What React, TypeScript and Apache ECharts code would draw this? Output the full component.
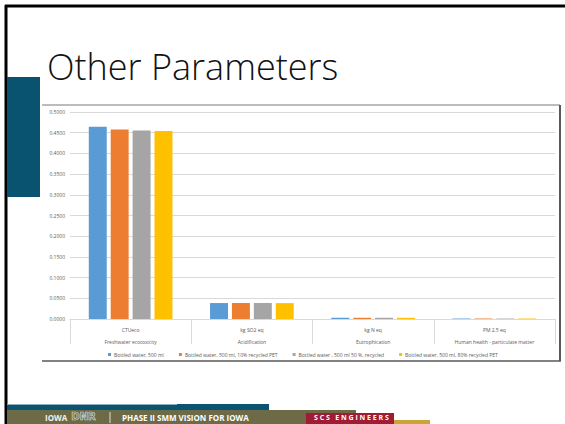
import React, { useEffect, useRef } from "react";
import * as echarts from "echarts";

const units = ["CTUeco", "kg SO2 eq", "kg N eq", "PM 2.5 eq"];
const impacts = ["Freshwater ecotoxicity", "Acidification", "Eutrophication", "Human health - particulate matter"];
const seriesNames = [
  "Bottled water, 500 ml",
  "Bottled water, 500 ml, 10% recycled PET",
  "Bottled water , 500 ml 50 %, recycled",
  "Bottled water, 500 ml, 80% recycled PET",
];
const bottled500 = [0.4645, 0.0385, 0.003, 0.0012];
const recycled10 = [0.458, 0.0384, 0.0029, 0.0012];
const recycled50 = [0.4556, 0.0384, 0.0029, 0.0011];
const recycled80 = [0.454, 0.0384, 0.0028, 0.0011];
const yTicks = [0, 0.5, 0.05];
const colors = ["#5B9BD5", "#ED7D31", "#A5A5A5", "#FFC000"];
const titleText = "Other Parameters";

export default function App() {
  const ref = useRef<HTMLDivElement>(null);
  useEffect(() => {
    if (!ref.current) return;
    const chart = echarts.init(ref.current, null, { renderer: "svg" });
    const data = [bottled500, recycled10, recycled50, recycled80];
    chart.setOption({
      animation: false,
      backgroundColor: "#ffffff",
      grid: { left: 70, right: 10, top: 112, bottom: 105, containLabel: false },
      legend: {
        left: 103,
        top: 347,
        itemWidth: 3,
        itemHeight: 3,
        itemGap: 15,
        icon: "rect",
        textStyle: { fontSize: 5, color: "#595959", fontFamily: "Open Sans", padding: [0, 0, 0, -2] },
        data: seriesNames,
      },
      xAxis: {
        type: "category",
        data: units.map((u, i) => u + "\n" + impacts[i]),
        axisLine: { lineStyle: { color: "#d9d9d9", width: 1 } },
        axisTick: { show: true, length: 25, interval: 0, lineStyle: { color: "#d9d9d9" } },
        axisLabel: {
          interval: 0,
          fontSize: 5,
          lineHeight: 12,
          color: "#595959",
          fontFamily: "Open Sans",
          margin: 5,
        },
      },
      yAxis: {
        type: "value",
        min: yTicks[0],
        max: yTicks[1],
        interval: yTicks[2],
        axisLabel: {
          fontSize: 5,
          color: "#595959",
          fontFamily: "Open Sans",
          margin: 5,
          formatter: (v: number) => v.toFixed(4),
        },
        splitLine: { lineStyle: { color: "#d9d9d9", width: 1 } },
        axisLine: { show: false },
        axisTick: { show: false },
      },
      series: data.map((d, i) => ({
        name: seriesNames[i],
        type: "bar",
        data: d,
        barGap: "22%",
        barCategoryGap: "31%",
        itemStyle: { color: colors[i] },
      })),
      graphic: [
        // slide frame
        { type: "line", shape: { x1: 5, y1: 6, x2: 565, y2: 6 }, style: { stroke: "#000", lineWidth: 3 } },
        { type: "line", shape: { x1: 6, y1: 5, x2: 6, y2: 424 }, style: { stroke: "#000", lineWidth: 3 } },
        { type: "rect", shape: { x: 7, y: 77, width: 33, height: 120 }, style: { fill: "#0a5370" } },
        {
          type: "text",
          left: 47,
          top: 48,
          style: { text: titleText, fontSize: 36, fontFamily: "Open Sans", fontWeight: 300, fill: "#111" },
        },
        // chart frame
        { type: "line", shape: { x1: 42, y1: 105, x2: 560, y2: 105 }, style: { stroke: "#a6a6a6", lineWidth: 1.5 } },
        { type: "line", shape: { x1: 560, y1: 105, x2: 560, y2: 361 }, style: { stroke: "#595959", lineWidth: 2 } },
        { type: "line", shape: { x1: 42, y1: 361, x2: 561, y2: 361 }, style: { stroke: "#595959", lineWidth: 1.5 } },
        // footer
        { type: "rect", shape: { x: 7, y: 404, width: 262, height: 6 }, style: { fill: "#0b5373" } },
        { type: "rect", shape: { x: 7, y: 404, width: 170, height: 1 }, style: { fill: "#8fb0c0" } },
        { type: "rect", shape: { x: 7, y: 410, width: 349, height: 14 }, style: { fill: "#6d6a48" } },
        { type: "rect", shape: { x: 394, y: 420, width: 36, height: 4 }, style: { fill: "#c9a436" } },
        { type: "rect", shape: { x: 306, y: 413, width: 88, height: 11 }, style: { fill: "#a01c34" } },
        {
          type: "text",
          left: 45,
          top: 413,
          style: { text: "IOWA", fontSize: 8, fontWeight: "bold", fontFamily: "Open Sans", fill: "#f2f2ea" },
        },
        {
          type: "text",
          left: 71,
          top: 411,
          style: { text: "DNR", fontSize: 10, fontWeight: "bold", fontFamily: "DejaVu Sans", fill: "none", stroke: "#d8d8cc", lineWidth: 0.7 },
        },
        { type: "line", shape: { x1: 110, y1: 412, x2: 110, y2: 423 }, style: { stroke: "#e0e0d6", lineWidth: 1 } },
        {
          type: "text",
          left: 122,
          top: 413,
          style: { text: "PHASE II SMM VISION FOR IOWA", fontSize: 8, fontWeight: "bold", fontFamily: "Open Sans", fill: "#ffffff" },
        },
        {
          type: "text",
          left: 314,
          top: 414,
          style: { text: "S C S   E N G I N E E R S", fontSize: 7, fontWeight: "bold", fontFamily: "Open Sans", fill: "#ffffff" },
        },
      ],
    });
    return () => chart.dispose();
  }, []);
  return <div ref={ref} style={{ position: "fixed", left: 0, top: 0, width: 565, height: 424 }} />;
}
